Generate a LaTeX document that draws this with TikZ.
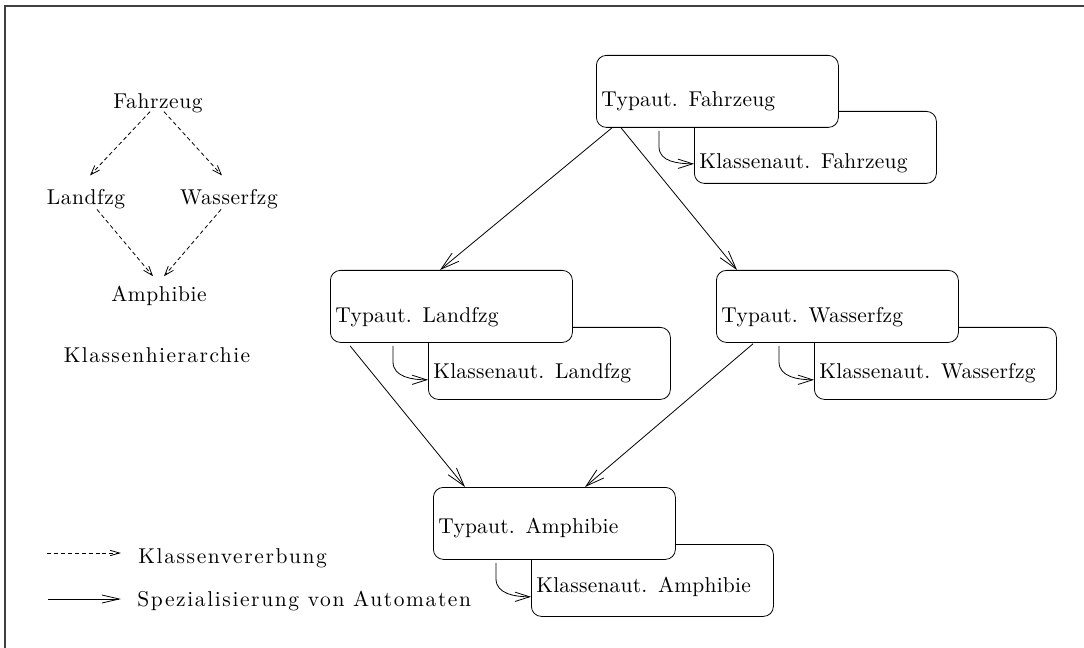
\documentclass[tikz,border=0pt]{standalone}
\usepackage{fontspec}
\setmainfont{lmroman10-regular.otf}
\usetikzlibrary{arrows.meta,calc}
\begin{document}
\begin{tikzpicture}[x=0.75pt,y=-0.75pt,
  sp/.style={font=\fontsize{16.1}{19}\selectfont\addfontfeature{LetterSpace=#1}},
  line width=0.6pt,
  tbox/.style={draw, rounded corners=7.5pt, fill=white, minimum width=181.5pt,
    minimum height=54pt, text width=174pt, inner xsep=3.2pt, inner ysep=0pt,
    align=left, text depth=3pt, text height=#1, anchor=north west, sp=1},
  spec/.style={-{Straight Barb[length=14pt,width=8pt]}},
  specsmall/.style={-{Straight Barb[length=11pt,width=7pt]}},
  inh/.style={dash pattern=on 3pt off 2.2pt, -{Straight Barb[length=7pt,width=5pt]}},
  lbl/.style={anchor=base, inner sep=0pt}
]
\useasboundingbox (0,0) rectangle (1084,648);
% frame
\draw[black!75, line width=1pt] (5,648) -- (5,6) -- (1084,6);

% class hierarchy
\node[lbl, sp=2.8] (fz) at (158,109) {Fahrzeug};
\node[lbl, sp=2.8] (lf) at (86,205) {Landfzg};
\node[lbl, sp=2.8] (wf) at (229,205) {Wasserfzg};
\node[lbl, sp=2.8] (am) at (159,301) {Amphibie};
\node[lbl, sp=6.8] (kh) at (157,362) {Klassenhierarchie};
\draw[inh] ($(fz.north)+(-8,18)$) -- ($(lf.north)+(4,-14)$);
\draw[inh] ($(fz.north)+(6,18)$) -- ($(wf.north)+(-7,-14)$);
\draw[inh] ($(lf.north)+(11,20)$) -- ($(am.north)+(-6,-9)$);
\draw[inh] ($(wf.north)+(-8,20)$) -- ($(am.north)+(5,-9)$);

% automata: class automata first (behind)
\node[tbox=34.5pt] (kf) at (694,111) {Klassenaut. Fahrzeug};
\node[tbox=25.5pt] (kl) at (428,327) {Klassenaut. Landfzg};
\node[tbox=25.5pt] (kw) at (814,327) {Klassenaut. Wasserfzg};
\node[tbox=21pt]   (ka) at (531,544) {Klassenaut. Amphibie};
\node[tbox=25.5pt] (tf) at (596,55) {Typaut. Fahrzeug};
\node[tbox=27pt]   (tl) at (330,270) {Typaut. Landfzg};
\node[tbox=27pt]   (tw) at (716,270) {Typaut. Wasserfzg};
\node[tbox=18pt]   (ta) at (433,487) {Typaut. Amphibie};

% specialisation arrows
\draw[spec] ($(tf.south west)+(16,0)$) -- ($(tl.north west)+(110,0)$);
\draw[spec] ($(tf.south west)+(25,0)$) -- ($(tw.north west)+(21,0)$);
\draw[spec] ($(tl.south west)+(20,3)$) -- ($(ta.north west)+(32,0)$);
\draw[spec] ($(tw.south west)+(37,1)$) -- ($(ta.north west)+(152,0)$);

% type -> class automaton arrows
\foreach \t/\k in {tf/kf,tl/kl,tw/kw,ta/ka}{
  \draw[specsmall] ($(\t.south west)+(63,3)$) -- ++(0,16) to[out=-90,in=180] ($(\k.south west)+(0,-20)$);
}

% legend
\coordinate (la) at (47,553);
\coordinate (lb) at (121,553);
\draw[inh,-{Straight Barb[length=7pt,width=4pt]}] (la) -- (lb);
\node[anchor=base west, inner sep=0pt, sp=7.5] (l1) at (138,563) {Klassenvererbung};
\coordinate (lc) at (48,599);
\coordinate (ld) at (121,599);
\draw[-{Straight Barb[length=13pt,width=6pt]}] (lc) -- (ld);
\node[anchor=base west, inner sep=0pt, sp=7.5] (l2) at (137,606) {Spezialisierung von Automaten};
\end{tikzpicture}
\end{document}
